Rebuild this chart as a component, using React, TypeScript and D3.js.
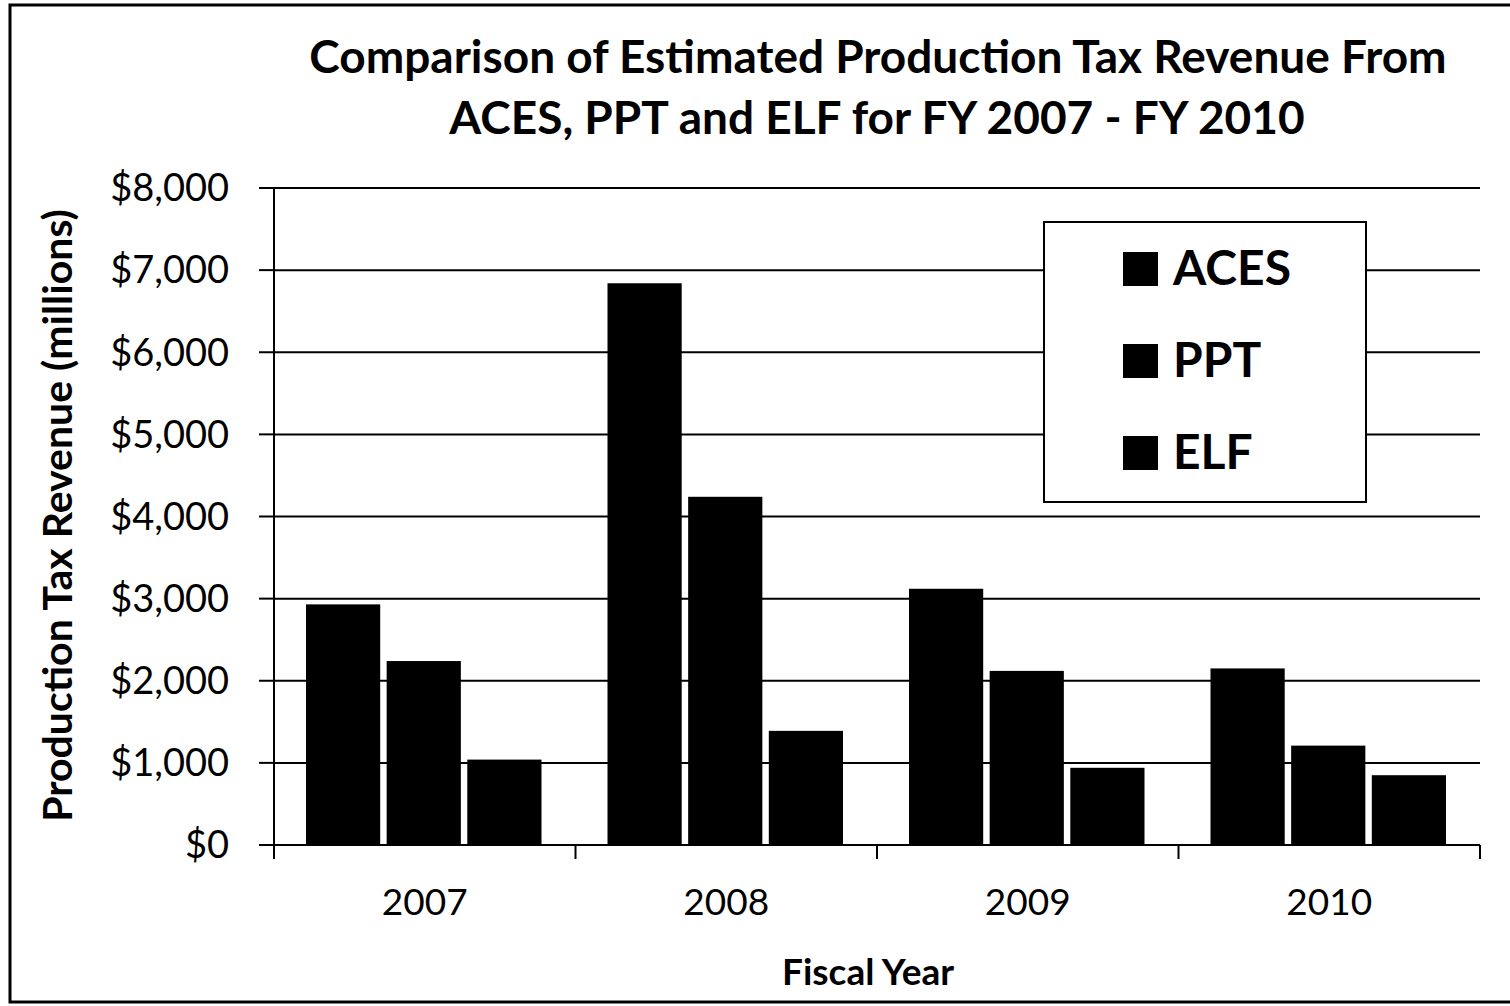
import React from 'react';
import * as d3 from 'd3';

const years = ['2007', '2008', '2009', '2010'];
const seriesNames = ['ACES', 'PPT', 'ELF'];
const aces = [2930, 6840, 3120, 2150];
const ppt = [2240, 4240, 2120, 1210];
const elf = [1040, 1390, 940, 850];
const yTicks = [0, 1000, 2000, 3000, 4000, 5000, 6000, 7000, 8000];

const W = 1510;
const H = 1006;
const FONT = 'Lato, "Open Sans", sans-serif';

export default function App() {
  const margin = { top: 188, right: 30, bottom: 161, left: 274 };
  const plotW = W - margin.left - margin.right;
  const plotH = H - margin.top - margin.bottom;

  const x0 = d3.scaleBand().domain(years).range([0, plotW]).padding(0);
  const x1 = d3
    .scaleBand()
    .domain(seriesNames)
    .range([32, x0.bandwidth() - 34])
    .paddingInner(0.08)
    .paddingOuter(0);
  const y = d3.scaleLinear().domain([0, 8000]).range([plotH, 0]);

  const values: Record<string, number[]> = { ACES: aces, PPT: ppt, ELF: elf };
  const fmt = (v: number) => '$' + d3.format(',')(v);

  return (
    <div style={{ position: 'absolute', left: 0, top: 0 }}>
      <svg width={W} height={H} style={{ display: 'block', background: '#fff' }} fontFamily={FONT}>
        {/* outer frame */}
        <rect x={10} y={5} width={W + 20} height={997} fill="none" stroke="#000" strokeWidth={3} />

        {/* title */}
        <text x={878} y={73} textAnchor="middle" fontSize={46} fontWeight={700} fill="#000">
          Comparison of Estimated Production Tax Revenue From
        </text>
        <text x={877} y={134} textAnchor="middle" fontSize={46} fontWeight={700} fill="#000">
          ACES, PPT and ELF for FY 2007 - FY 2010
        </text>

        <g transform={`translate(${margin.left},${margin.top})`}>
          {/* gridlines */}
          {yTicks.map((t) => (
            <line key={'g' + t} x1={0} x2={plotW} y1={y(t)} y2={y(t)} stroke="#000" strokeWidth={2} />
          ))}

          {/* bars */}
          {years.map((yr, i) => (
            <g key={yr} transform={`translate(${x0(yr)},0)`}>
              {seriesNames.map((s) => (
                <rect
                  key={s}
                  x={x1(s)}
                  y={y(values[s][i])}
                  width={x1.bandwidth()}
                  height={plotH - y(values[s][i])}
                  fill="#000"
                />
              ))}
            </g>
          ))}

          {/* y axis */}
          <line x1={0} x2={0} y1={0} y2={plotH + 14} stroke="#000" strokeWidth={2} />
          {yTicks.map((t) => (
            <g key={'y' + t} transform={`translate(0,${y(t)})`}>
              <line x1={-15} x2={0} stroke="#000" strokeWidth={2} />
              <text x={-45} dy="0.35em" textAnchor="end" fontSize={38} fill="#000">
                {fmt(t)}
              </text>
            </g>
          ))}

          {/* x axis ticks and labels */}
          {[...years.map((yr) => x0(yr) as number), plotW].map((xv, i) => (
            <line key={'xt' + i} x1={xv} x2={xv} y1={plotH} y2={plotH + 14} stroke="#000" strokeWidth={2} />
          ))}
          {years.map((yr) => (
            <text
              key={'xl' + yr}
              x={(x0(yr) as number) + x0.bandwidth() / 2}
              y={plotH + 70}
              textAnchor="middle"
              fontSize={37}
              fill="#000"
            >
              {yr}
            </text>
          ))}

          {/* legend */}
          <g transform={`translate(${1044 - margin.left},${222 - margin.top})`}>
            <rect x={0} y={0} width={322} height={280} fill="#fff" stroke="#000" strokeWidth={2} />
            {seriesNames.map((s, i) => (
              <g key={'lg' + s} transform={`translate(0,${63 + i * 92})`}>
                <rect x={79} y={-33} width={35} height={34} fill="#000" />
                <text x={129} y={0} fontSize={48} fontWeight={700} fill="#000">
                  {s}
                </text>
              </g>
            ))}
          </g>
        </g>

        {/* axis titles */}
        <text
          transform={`translate(72,${margin.top + plotH / 2 - 1}) rotate(-90)`}
          textAnchor="middle"
          fontSize={41}
          fontWeight={700}
          fill="#000"
        >
          Production Tax Revenue (millions)
        </text>
        <text x={868} y={985} textAnchor="middle" fontSize={37} fontWeight={700} fill="#000">
          Fiscal Year
        </text>
      </svg>
    </div>
  );
}
